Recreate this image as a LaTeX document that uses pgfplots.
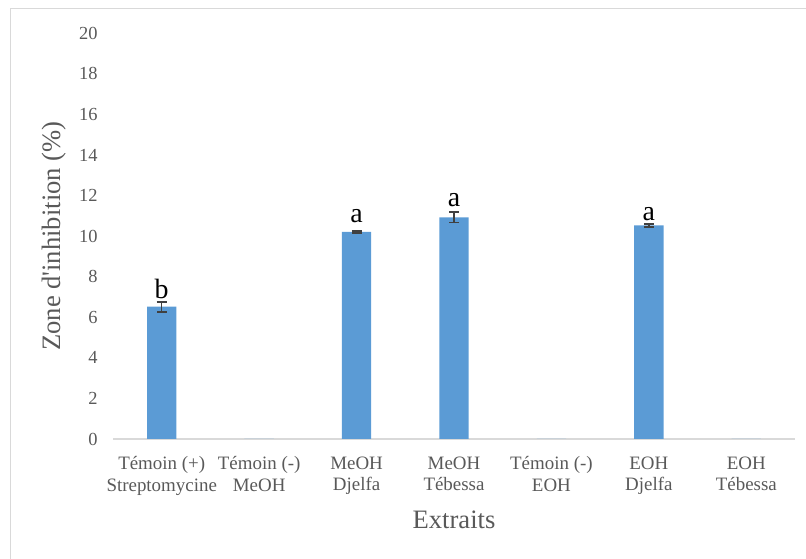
\documentclass[border=0pt]{standalone}
\usepackage{fontspec}
\setmainfont{Liberation Serif}
\newfontfamily\plainserif{Liberation Serif}[Ligatures=TeXOff]
\usepackage{pgfplots}
\pgfplotsset{compat=1.18}
\definecolor{barblue}{HTML}{5B9BD5}
\definecolor{txtgray}{HTML}{595959}
\definecolor{axgray}{HTML}{D9D9D9}
\definecolor{errgray}{HTML}{404040}
\pgfplotstableread{
x y e
0 6.52 0.25
2 10.21 0.05
3 10.93 0.26
5 10.53 0.08
}\datatab
\pgfplotstableread{
x y
1 0
4 0
6 0
}\zerotab
\begin{document}
\begin{tikzpicture}[x=1bp,y=1bp]
\useasboundingbox (0,0) rectangle (806,559);
\draw[axgray, line width=1.5bp] (10.5,0) -- (10.5,550.5) -- (806,550.5);
\begin{axis}[
  at={(113bp,120bp)}, anchor=south west,
  scale only axis, width=682bp, height=405.7bp,
  xmin=-0.5, xmax=6.5, ymin=0, ymax=20,
  ytick={0,2,...,20},
  xtick={0,...,6},
  xticklabels={{Témoin (+)\\Streptomycine},{Témoin (-)\\MeOH},{MeOH\\Djelfa},{MeOH\\Tébessa},{Témoin (-)\\EOH},{EOH\\Djelfa},{EOH\\Tébessa}},
  axis x line*=bottom, axis y line*=left,
  y axis line style={draw=none},
  x axis line style={draw=axgray, line width=1.2bp},
  major tick length=0pt, tick style={draw=none},
  /pgf/number format/assume math mode=true,
  yticklabel style={font=\fontsize{18.5}{22}\selectfont, text=txtgray, xshift=-12bp},
  xticklabel style={font=\fontsize{19}{22}\selectfont, text=txtgray, align=center, anchor=north, yshift=-14bp},
  ylabel={\plainserif Zone d'inhibition (\%)},
  ylabel style={font=\fontsize{26.7}{30}\selectfont, text=txtgray, at={(axis description cs:-0.0865,0.5)}, anchor=center},
  xlabel={Extraits},
  xlabel style={font=\fontsize{26.7}{30}\selectfont, text=txtgray, at={(axis description cs:0.5,0)}, anchor=base, yshift=-90bp},
]
\addplot[ybar, bar width=29.3bp, fill=barblue, draw=none,
  error bars/.cd, y dir=both, y explicit,
  error bar style={errgray, line width=1.4bp},
  error mark options={rotate=90, mark size=5bp, errgray, line width=1.8bp}]
  table[x=x, y=y, y error=e] {\datatab};
\addplot[ybar, bar width=29.3bp, fill=barblue, draw=none] table[x=x, y=y] {\zerotab};
\node[anchor=base, font=\fontsize{28}{30}\selectfont] at (axis cs:0,6.95) {b};
\node[anchor=base, font=\fontsize{28}{30}\selectfont] at (axis cs:2,10.68) {a};
\node[anchor=base, font=\fontsize{28}{30}\selectfont] at (axis cs:3,11.45) {a};
\node[anchor=base, font=\fontsize{28}{30}\selectfont] at (axis cs:5,10.75) {a};
\end{axis}
\end{tikzpicture}
\end{document}
